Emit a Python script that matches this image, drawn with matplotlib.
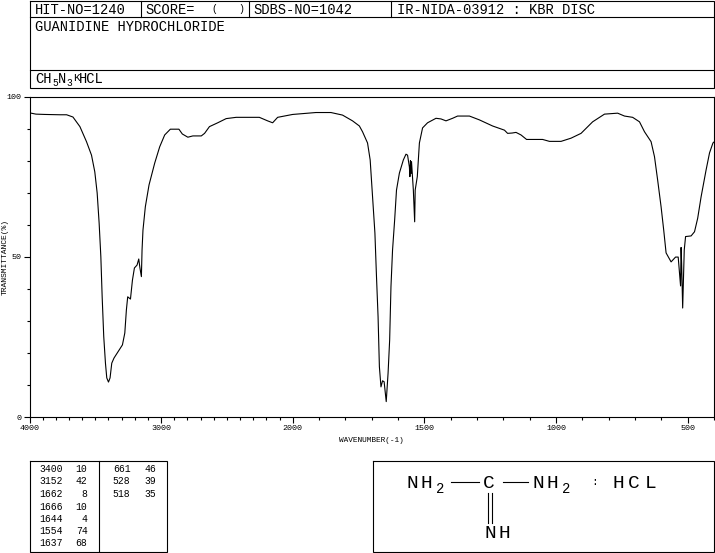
import matplotlib
matplotlib.use("Agg")
import matplotlib.pyplot as plt
import numpy as np

plt.rcParams["font.family"] = ["Liberation Mono", "DejaVu Sans Mono"]

# IR spectrum
WAVENUMBER = [4000, 3951, 3883, 3769, 3718, 3670, 3617, 3567, 3529, 3504, 3486, 3471, 3458, 3448,
              3436, 3423, 3413, 3400, 3388, 3375, 3358, 3327, 3294, 3276, 3264, 3254, 3233, 3218,
              3203, 3183, 3170, 3161, 3150, 3145, 3138, 3120, 3092, 3049, 3011, 2973, 2930, 2865,
              2839, 2797, 2759, 2695, 2670, 2633, 2570, 2506, 2430, 2254, 2191, 2153, 2115, 2001,
              1912, 1855, 1811, 1773, 1747, 1735, 1716, 1706, 1697, 1688, 1682, 1676, 1671, 1665,
              1659, 1653, 1645, 1638, 1632, 1627, 1621, 1613, 1606, 1595, 1580, 1570, 1564, 1557,
              1555, 1553, 1551, 1549, 1542, 1537, 1535, 1527, 1519, 1507, 1488, 1456, 1437, 1418,
              1393, 1374, 1329, 1291, 1241, 1196, 1184, 1167, 1152, 1133, 1112, 1051, 1025, 981,
              943, 905, 861, 816, 766, 740, 709, 683, 664, 639, 626, 614, 601, 591, 582, 563,
              546, 536, 531, 527, 525, 523, 519, 513, 508, 487, 474, 462, 449, 430, 417, 404, 400]
TRANSMITTANCE = [94.9, 94.5, 94.4, 94.3, 94.3, 93.6, 90.6, 85.9, 81.7, 76.5, 69.9, 60.5, 50.0, 37.5,
                 25.1, 16.8, 12.2, 10.9, 12.2, 16.8, 18.4, 20.4, 22.5, 26.2, 33.4, 37.5, 36.8, 42.7,
                 46.5, 47.4, 49.3, 46.5, 43.8, 52.1, 58.3, 65.6, 72.4, 79.2, 84.3, 88.0, 89.8, 89.8,
                 88.3, 87.3, 87.7, 87.7, 88.5, 90.6, 91.8, 93.1, 93.5, 93.5, 92.4, 91.8, 93.5, 94.4,
                 95.0, 95.0, 94.2, 92.4, 90.8, 89.0, 85.5, 80.2, 68.7, 57.4, 43.8, 31.3, 15.7, 9.4,
                 11.3, 11.0, 4.8, 13.7, 24.0, 40.7, 52.1, 61.5, 70.8, 76.1, 80.2, 82.0, 81.7, 78.0,
                 75.0, 80.0, 76.0, 79.7, 70.8, 60.9, 70.8, 75.0, 85.5, 90.2, 91.8, 93.2, 93.0, 92.4,
                 93.2, 93.9, 93.9, 92.7, 90.8, 89.5, 88.5, 88.6, 88.8, 88.0, 86.6, 86.6, 86.0, 86.0,
                 87.0, 88.5, 92.1, 94.5, 94.8, 93.9, 93.5, 92.1, 89.0, 85.9, 81.2, 73.9, 65.6, 58.3, 51.2, 48.4,
                 49.9, 49.9, 44.9, 40.9, 52.9, 48.0, 34.0, 52.1, 56.3, 56.5, 57.8, 62.0, 68.7, 77.1, 82.4, 85.5, 85.8]

X_LABELLED = [4000, 3000, 2000, 1500, 1000, 500]
Y_LABELLED = [0, 50, 100]

PEAKS_LEFT = ["3400", "3152", "1662", "1666", "1644", "1554", "1637"]
DEPTH_LEFT = ["10", "42", "8", "10", "4", "74", "68"]
PEAKS_RIGHT = ["661", "528", "518"]
DEPTH_RIGHT = ["46", "39", "35"]

W, H = 715, 553
LW = 0.8


def forward(wn):
    # the chart changes scale at 2000 cm-1, the part above it is compressed by 2
    wn = np.asarray(wn, dtype=float)
    return np.where(wn <= 2000, wn, 2000 + (wn - 2000) * 0.5)


def inverse(v):
    v = np.asarray(v, dtype=float)
    return np.where(v <= 2000, v, 2000 + (v - 2000) * 2)


def px_text(ax, x, y, s, size=9.9, ha="left", **kw):
    ax.text(x, y, s, fontsize=size, ha=ha, va="baseline", color="black", **kw)


def px_rect(ax, x0, y0, x1, y1):
    ax.plot([x0, x1, x1, x0, x0], [y0, y0, y1, y1, y0], color="black", lw=LW,
            solid_joinstyle="miter", clip_on=False)


def main():
    fig = plt.figure(figsize=(W / 100, H / 100), dpi=100)

    ax = fig.add_axes([29.5 / W, 1 - 417 / H, 684.5 / W, 320.5 / H])
    ax.set_xscale("function", functions=(forward, inverse))
    ax.plot(WAVENUMBER, TRANSMITTANCE, color="black", lw=LW)
    for s in ax.spines.values():
        s.set_linewidth(LW)

    ax.set_xticks(X_LABELLED, [str(v) for v in X_LABELLED])
    ax.set_xticks(np.arange(400, 4000, 100), minor=True)
    ax.set_yticks(Y_LABELLED, [str(v) for v in Y_LABELLED])
    ax.set_yticks(np.arange(0, 101, 10), minor=True)
    ax.set_xlim(4000, 400)
    ax.set_ylim(0, 100)
    ax.tick_params(which="major", length=4.5, width=LW, labelsize=6, pad=1.5)
    ax.tick_params(which="minor", length=2, width=LW)
    ax.set_xlabel("WAVENUMBER(-1)", fontsize=5.6, labelpad=3)
    ax.set_ylabel("TRANSMITTANCE(%)", fontsize=5.8)
    ax.yaxis.set_label_coords(-0.03, 0.5)

    # overlay in pixel coordinates for the header, peak table and structure
    ov = fig.add_axes([0, 0, 1, 1])
    ov.set_xlim(0, W)
    ov.set_ylim(H, 0)
    ov.axis("off")

    px_rect(ov, 29.5, 0.5, 714, 87.5)
    ov.plot([29.5, 714], [16.5, 16.5], color="black", lw=LW)
    ov.plot([29.5, 714], [69.5, 69.5], color="black", lw=LW)
    for x in [140.5, 248.5, 390.5]:
        ov.plot([x, x], [0.5, 16.5], color="black", lw=LW)

    px_text(ov, 35, 14, "HIT-NO=1240")
    px_text(ov, 145, 14, "SCORE=")
    px_text(ov, 211, 12, "(", size=7)
    px_text(ov, 238, 12, ")", size=7)
    px_text(ov, 253, 14, "SDBS-NO=1042")
    px_text(ov, 397, 14, "IR-NIDA-03912 : KBR DISC")
    px_text(ov, 35, 31, "GUANIDINE HYDROCHLORIDE")

    px_text(ov, 35, 83, "CH")
    px_text(ov, 52, 86, "5", size=7)
    px_text(ov, 58, 83, "N")
    px_text(ov, 66, 86, "3", size=7)
    px_text(ov, 73, 81, "K", size=8)
    px_text(ov, 79, 83, "HCL")

    # peak table
    px_rect(ov, 29.5, 460.5, 166.5, 552)
    ov.plot([98.5, 98.5], [460.5, 552], color="black", lw=LW)
    rows = [472, 484.5, 497, 509.5, 522, 534.5, 546.5]
    for y, p, d in zip(rows, PEAKS_LEFT, DEPTH_LEFT):
        px_text(ov, 62.5, y, p, size=7, ha="right")
        px_text(ov, 87.5, y, d, size=7, ha="right")
    for y, p, d in zip(rows, PEAKS_RIGHT, DEPTH_RIGHT):
        px_text(ov, 130.5, y, p, size=7, ha="right")
        px_text(ov, 156.5, y, d, size=7, ha="right")

    # structure box
    px_rect(ov, 372.5, 460.5, 714, 552)
    big = 14
    px_text(ov, 406, 487.5, "N", size=big)
    px_text(ov, 420, 487.5, "H", size=big)
    px_text(ov, 436, 493, "2", size=10)
    px_text(ov, 483, 487.5, "C", size=big)
    px_text(ov, 532, 487.5, "N", size=big)
    px_text(ov, 546, 487.5, "H", size=big)
    px_text(ov, 562, 493, "2", size=10)
    px_text(ov, 591, 485, ":", size=8)
    px_text(ov, 612, 487.5, "H", size=big)
    px_text(ov, 628, 487.5, "C", size=big)
    px_text(ov, 645, 487.5, "L", size=big)
    px_text(ov, 484, 538.5, "N", size=big)
    px_text(ov, 499, 538.5, "H", size=big)
    ov.plot([451, 479], [481.5, 481.5], color="black", lw=LW)
    ov.plot([503, 528], [481.5, 481.5], color="black", lw=LW)
    ov.plot([487.5, 487.5], [493, 523], color="black", lw=LW)
    ov.plot([491.5, 491.5], [493, 523], color="black", lw=LW)

    fig.savefig("out.png", dpi=100)
    plt.close(fig)


if __name__ == "__main__":
    main()
